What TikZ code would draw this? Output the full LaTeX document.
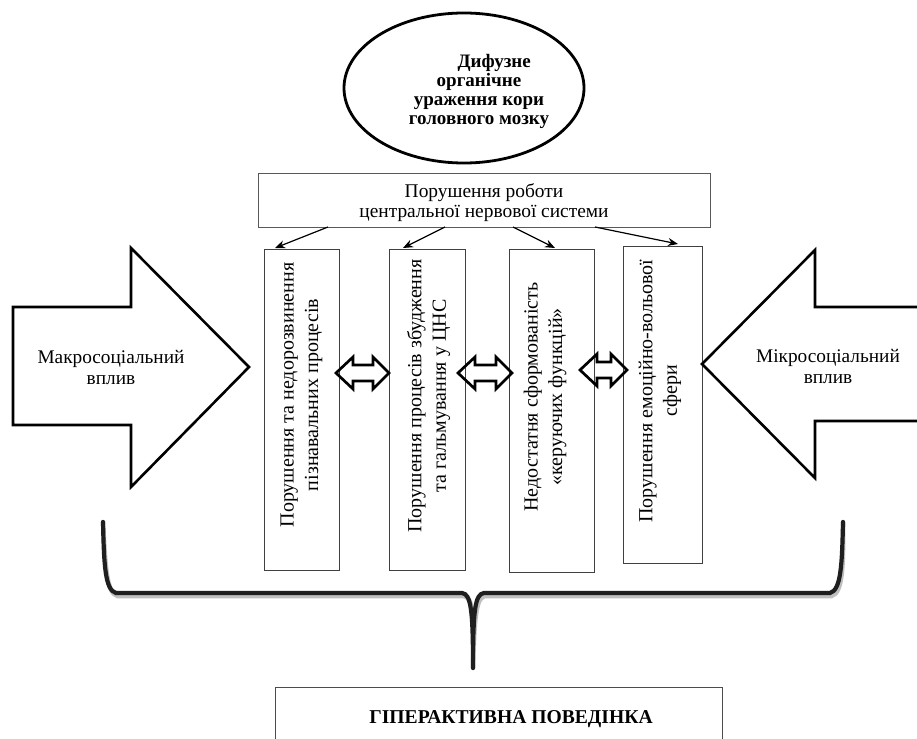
\documentclass[tikz,border=0pt]{standalone}
\usepackage{fontspec}
\setmainfont{Liberation Serif}
\usetikzlibrary{arrows.meta,shapes.geometric}
\begin{document}
\begin{tikzpicture}[x=1pt,y=-1pt,
  colbox/.style={draw=black!75, line width=0.8pt, inner sep=0pt},
  coltext/.style={rotate=90, align=center, font=\fontsize{20}{24.5}\selectfont, inner sep=0pt},
  sidetext/.style={align=center, font=\fontsize{19.3}{21}\selectfont, inner sep=0pt},
  bigarrow/.style={draw=black, line width=2.6pt, line join=miter},
  dblarrow/.style={draw=black, line width=2.7pt, line join=miter},
  linkarrow/.style={draw=black, line width=1.2pt, -{Stealth[length=10pt,width=8pt]}},
  bracestyle/.style={draw=black!88, line width=4.2pt, line cap=round}]
\useasboundingbox (0,0) rectangle (917,738);
\fill[white] (0,0) rectangle (917,738);

% ellipse
\node[draw=black, line width=2.8pt, ellipse, minimum width=240pt, minimum height=150pt, inner sep=0pt] (lesion) at (464,88) {};
\node[align=center, font=\bfseries\fontsize{19}{19}\selectfont, inner sep=0pt] (lesiontext) at (479,91)
  {\hspace*{1.6em}Дифузне\\органічне\hspace*{1.2em}\\ураження кори\\головного мозку};

% CNS box
\node[draw=black!65, line width=0.9pt, minimum width=452pt, minimum height=54pt, inner sep=0pt] (cns) at (484,200) {};
\node[align=center, font=\fontsize{19.4}{20.5}\selectfont, inner sep=0pt] (cnstext) at (484,202.5)
  {Порушення роботи\\центральної нервової системи};

% columns
\node[colbox, minimum width=75pt, minimum height=321pt] (c1) at (301.5,409.5) {};
\node[colbox, minimum width=76pt, minimum height=321pt] (c2) at (427,409.5) {};
\node[colbox, minimum width=85pt, minimum height=323pt] (c3) at (551.5,410.5) {};
\node[colbox, minimum width=79pt, minimum height=317pt] (c4) at (662.5,404.5) {};

\node[coltext] (t1) at (301.5,395) {Порушення та недорозвинення\\пізнавальних процесів};
\node[coltext] (t2) at (428.5,396) {Порушення процесів збудження\\та гальмування у ЦНС};
\node[coltext] (t3) at (545,397) {Недостатня сформованість\\«керуючих функцій»};
\node[coltext] (t4) at (660,391) {Порушення емоційно-вольової\\сфери};

% arrows from CNS box to columns
\coordinate (s1) at (328,227);
\coordinate (s2) at (445,227);
\coordinate (s3) at (513,227);
\coordinate (s4) at (595,227);
\coordinate (e1) at (275,248);
\coordinate (e2) at (403,248);
\coordinate (e3) at (555,248);
\coordinate (e4) at (678,244);
\draw[linkarrow] (s1) -- (e1);
\draw[linkarrow] (s2) -- (e2);
\draw[linkarrow] (s3) -- (e3);
\draw[linkarrow] (s4) -- (e4);

% double arrows between columns
\foreach \xa/\xb/\yc in {336/389/373, 458/512/373, 580/627/370} {
  \draw[dblarrow] (\xa,\yc) -- (\xa+17,\yc-16) -- (\xa+17,\yc-8) -- (\xb-16,\yc-8) -- (\xb-16,\yc-16)
    -- (\xb,\yc) -- (\xb-16,\yc+16) -- (\xb-16,\yc+8) -- (\xa+17,\yc+8) -- (\xa+17,\yc+16) -- cycle;
}

% big side arrows
\draw[bigarrow] (13,307) -- (131,307) -- (131,248) -- (249,367) -- (131,487) -- (131,425) -- (13,425) -- cycle;
\node[sidetext] (macro) at (111,367) {Макросоціальний\\вплив};
\draw[bigarrow] (919,307) -- (815,307) -- (815,250) -- (702,364) -- (815,478) -- (815,421) -- (919,421);
\node[sidetext] (micro) at (828,366) {Мікросоціальний\\вплив};

% brace
\coordinate (bl) at (103,522);
\coordinate (br) at (843,522);
\coordinate (bm) at (473,668);
\begin{scope}[shift={(1.5,3)}]
\draw[draw=black!25, line width=4.5pt, line cap=round]
  (bl) .. controls (104,565) and (105,590) .. (116,593) -- (462,593) .. controls (471,594) and (473,610) .. (bm)
  (bm) .. controls (473,610) and (475,594) .. (484,593) -- (830,593) .. controls (841,590) and (842,565) .. (br);
\end{scope}
\draw[bracestyle]
  (bl) .. controls (104,565) and (105,590) .. (116,593) -- (462,593) .. controls (471,594) and (473,610) .. (bm)
  (bm) .. controls (473,610) and (475,594) .. (484,593) -- (830,593) .. controls (841,590) and (842,565) .. (br);

% result box
\node[draw=black!70, line width=0.9pt, minimum width=447pt, minimum height=90pt, inner sep=0pt] (result) at (498.5,732) {};
\node[font=\bfseries\fontsize{19.6}{20}\selectfont, inner sep=0pt, anchor=base] (resulttext) at (511,723) {ГІПЕРАКТИВНА ПОВЕДІНКА};
\end{tikzpicture}
\end{document}
